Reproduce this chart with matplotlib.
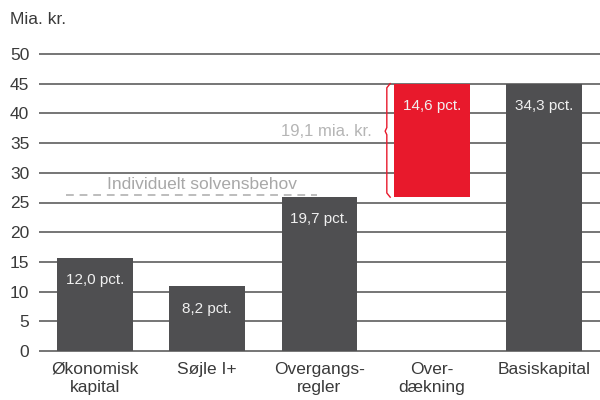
import matplotlib.pyplot as plt
import numpy as np

plt.rcParams['font.family'] = ['Liberation Sans', 'DejaVu Sans']

categories = ['Økonomisk\nkapital', 'Søjle I+', 'Overgangs-\nregler', 'Over-\ndækning', 'Basiskapital']
bottoms = [0, 0, 0, 25.9, 0]
heights = [15.7, 10.9, 25.9, 19.1, 45.0]
labels = ['12,0 pct.', '8,2 pct.', '19,7 pct.', '14,6 pct.', '34,3 pct.']
colors = ['#4f4f51', '#4f4f51', '#4f4f51', '#e8192c', '#4f4f51']
solvensbehov = 26.3
overdaekning_txt = '19,1 mia. kr.'

fig = plt.figure(figsize=(6, 4), dpi=100)
ax = fig.add_axes([0.065, 0.12, 0.935, 0.7475])

x = np.arange(len(categories))
ax.bar(x, heights, bottom=bottoms, width=0.675, color=colors, zorder=3)

for xi, b, h, lab in zip(x, bottoms, heights, labels):
    ax.annotate(lab, (xi, b + h), xytext=(0, -16), textcoords='offset points',
                ha='center', va='center', color='#f0f0f0', fontsize=11, zorder=4)

# individuelt solvensbehov
ax.plot([-0.26, 1.975], [solvensbehov, solvensbehov], color='#bdbdbd', lw=1.4,
        ls=(0, (4, 3)), zorder=2)
ax.text(0.11, solvensbehov + 0.5, 'Individuelt solvensbehov', color='#a8a8a8',
        fontsize=12.5, ha='left', va='bottom')

# tuborg-klamme ved overdækning
bot = bottoms[3]
top = bottoms[3] + heights[3]
mid = 37.0
bx = [2.63, 2.60, 2.60, 2.585, 2.60, 2.60, 2.63]
by = [top, top - 0.7, mid + 0.6, mid, mid - 0.6, bot + 0.7, bot]
ax.plot(bx, by, color='#e8192c', lw=1.0, zorder=4)
ax.text(2.47, mid, overdaekning_txt, color='#b5b5b5', fontsize=12,
        ha='right', va='center')

ax.set_xlim(-0.5, 4.5)
ax.set_ylim(-0.15, 50.15)
ax.set_yticks(np.arange(0, 51, 5))
ax.yaxis.grid(True, color='#6a6a6a', lw=1.3, zorder=0)
ax.set_axisbelow(True)
for s in ax.spines.values():
    s.set_visible(False)
ax.tick_params(axis='both', length=0, labelsize=12.5, labelcolor='#3a3a3a')
ax.tick_params(axis='y', pad=7)
ax.tick_params(axis='x', pad=7)
ax.set_xticks(x)
ax.set_xticklabels(categories, linespacing=1.25)

fig.text(0.017, 0.95, 'Mia. kr.', fontsize=12.5, color='#3a3a3a', va='center')

plt.savefig('out.png', dpi=100)
